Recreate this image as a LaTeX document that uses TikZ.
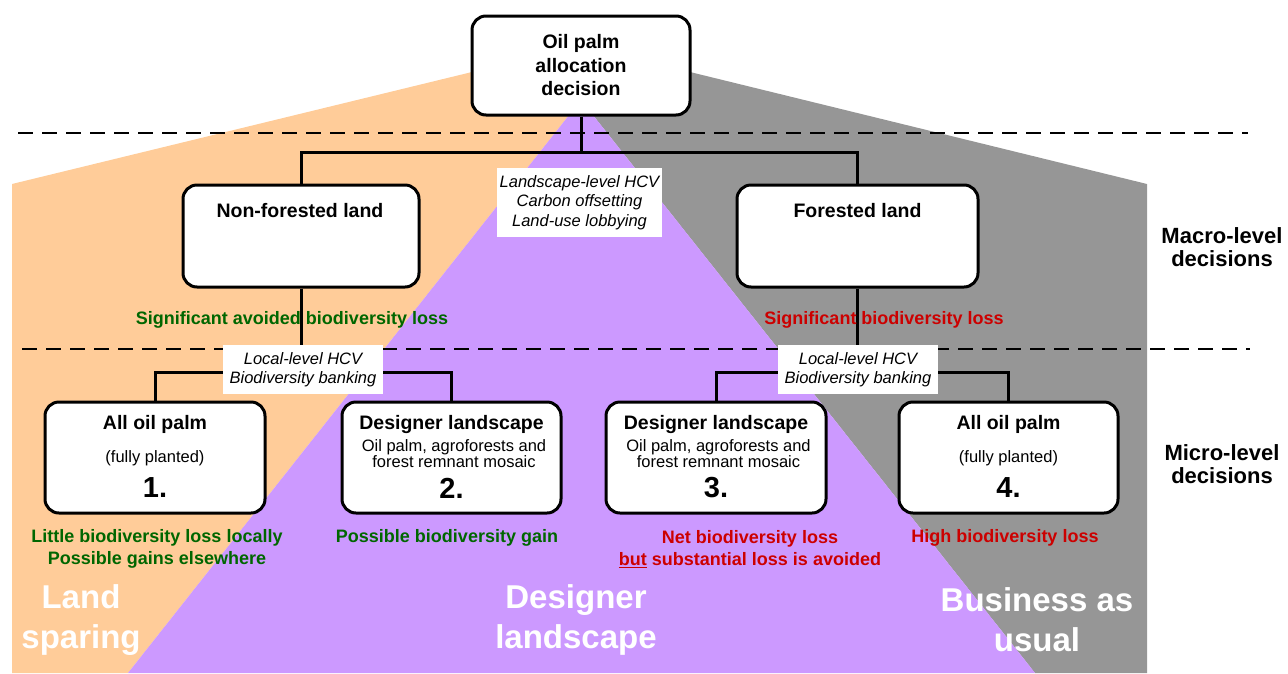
\documentclass[tikz,border=0pt]{standalone}
\usepackage{fontspec}
\setmainfont{Liberation Sans}
\definecolor{sparing}{RGB}{255,204,153}
\definecolor{designer}{RGB}{204,153,255}
\definecolor{usual}{RGB}{150,150,150}
\definecolor{gain}{RGB}{0,102,0}
\definecolor{loss}{RGB}{204,0,0}

\begin{document}
\begin{tikzpicture}[x=1pt, y=-1pt,
    decision/.style={draw, line width=3pt, rounded corners=14pt, fill=white, inner sep=0pt},
    policy/.style={fill=white, align=center, inner sep=0pt, font=\fontsize{16.5}{19.5}\selectfont\itshape},
    title/.style={font=\fontsize{19.5}{23.5}\selectfont\bfseries, align=center},
    sub/.style={font=\fontsize{16.5}{15}\selectfont, align=center},
    number/.style={font=\fontsize{29}{29}\selectfont\bfseries},
    outcome/.style={font=\fontsize{18}{22}\selectfont\bfseries, align=center},
    strategy/.style={font=\fontsize{33}{40}\selectfont\bfseries, align=center, text=white},
    level/.style={font=\fontsize{22}{23}\selectfont\bfseries, align=center},
    branch/.style={line width=3pt},
    divider/.style={line width=2pt, dash pattern=on 15pt off 9pt}]
        \useasboundingbox (0,0) rectangle (1288,673);
        \fill [sparing] (12,184) -- (472,72) -- (581,72) -- (581,100) -- (128,673) -- (12,673) -- cycle;
        \fill [usual] (690,72) -- (1147,184) -- (1147,673) -- (1035,673) -- (581,100) -- (581,72) -- cycle;
        \fill [designer] (581,100) -- (128,673) -- (1035,673) -- cycle;
        \draw [divider] (18,133) -- (1248,133);
        \draw [divider] (22,349) -- (1250,349);

        \node [decision, title, minimum width=218pt, minimum height=99pt] (top) at (581,65.5) {Oil palm\\allocation\\decision};
        \node [decision, minimum width=236pt, minimum height=102pt] (nonfor) at (301,236) {};
        \node [decision, minimum width=241pt, minimum height=102pt] (forest) at (857.5,236) {};
        \node [decision, minimum width=220pt, minimum height=111pt] (b1) at (155,457.5) {};
        \node [decision, minimum width=219pt, minimum height=111pt] (b2) at (451.5,457.5) {};
        \node [decision, minimum width=220pt, minimum height=111pt] (b3) at (716,457.5) {};
        \node [decision, minimum width=219pt, minimum height=111pt] (b4) at (1008.5,457.5) {};

        \draw [branch] (top.south) -- ++(0,36) -| (nonfor.north);
        \draw [branch] (top.south) -- ++(0,36) -| (forest.north);
        \draw [branch] (nonfor.south) -- ++(0,84) -| (b1.north);
        \draw [branch] (nonfor.south) -- ++(0,84) -| (b2.north);
        \draw [branch] (forest.south) -- ++(0,84) -| (b3.north);
        \draw [branch] (forest.south) -- ++(0,84) -| (b4.north);

        \node [policy, minimum width=165pt, minimum height=69pt] (macro) at (579.5,202.5) {Landscape-level HCV\\Carbon offsetting\\Land-use lobbying};
        \node [policy, minimum width=160pt, minimum height=49pt] (microL) at (303,369.5) {Local-level HCV\\Biodiversity banking};
        \node [policy, minimum width=160pt, minimum height=49pt] (microR) at (858,369.5) {Local-level HCV\\Biodiversity banking};

        \node [title] (nonfort) at (300,211) {Non-forested land};
        \node [title] (forestt) at (857.5,211) {Forested land};
        \node [outcome, text=gain] (nonforo) at (292,320) {Significant avoided biodiversity loss};
        \node [outcome, text=loss] (foresto) at (884,320) {Significant biodiversity loss};

        \node [title] (b1t) at (155,424) {All oil palm};
        \node [sub] (b1s) at (155,458) {(fully planted)};
        \node [number] (b1n) at (155,488) {1.};
        \node [title] (b2t) at (451.5,424) {Designer landscape};
        \node [sub] (b2s) at (454,453.5) {Oil palm, agroforests and\\forest remnant mosaic};
        \node [number] (b2n) at (451.5,488) {2.};
        \node [title] (b3t) at (716,424) {Designer landscape};
        \node [sub] (b3s) at (718.5,453.5) {Oil palm, agroforests and\\forest remnant mosaic};
        \node [number] (b3n) at (716,488) {3.};
        \node [title] (b4t) at (1008.5,424) {All oil palm};
        \node [sub] (b4s) at (1008.5,458) {(fully planted)};
        \node [number] (b4n) at (1008.5,488) {4.};

        \node [outcome, text=gain] (b1o) at (157,549) {Little biodiversity loss locally\\Possible gains elsewhere};
        \node [outcome, text=gain] (b2o) at (447,538) {Possible biodiversity gain};
        \node [outcome, text=loss] (b3o) at (750,549) {Net biodiversity loss\\\underline{but} substantial loss is avoided};
        \node [outcome, text=loss] (b4o) at (1005,538) {High biodiversity loss};

        \node [strategy] (landsp) at (81,620) {Land\\sparing};
        \node [strategy] (design) at (576,620) {Designer\\landscape};
        \node [strategy] (bau) at (1037,620) {Business as\\usual};
        \node [level] (macrol) at (1222,247) {Macro-level\\decisions};
        \node [level] (microl) at (1222,464) {Micro-level\\decisions};
    \end{tikzpicture}
\end{document}
